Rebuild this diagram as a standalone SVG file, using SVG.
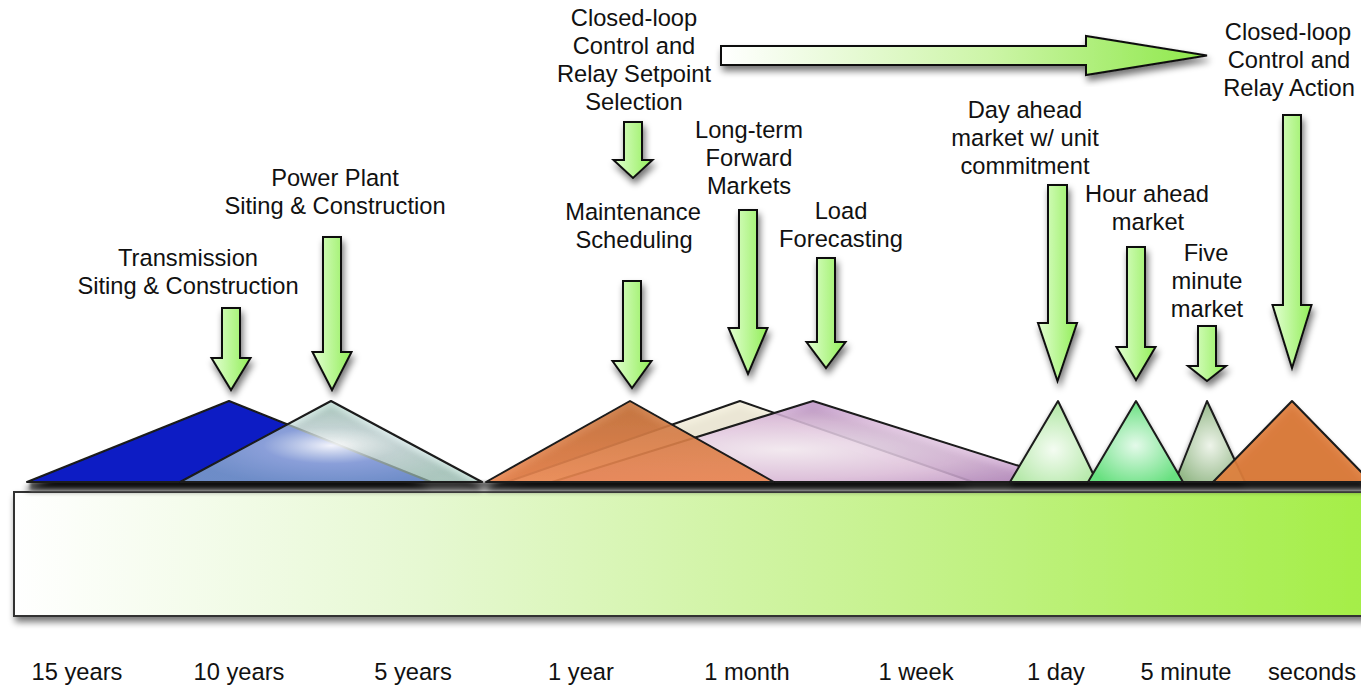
<svg xmlns="http://www.w3.org/2000/svg" width="1361" height="685" viewBox="0 0 1361 685">
  <style>
    .lbl { font-family: "Liberation Sans", Arial, sans-serif; font-size: 23.7px; text-anchor: middle; fill: #111; }
    .arr { fill: url(#gArrow); stroke: #111; stroke-width: 2; stroke-linejoin: miter; filter: url(#shadow); }
    .tri { stroke: #1a1a1a; stroke-width: 2; stroke-linejoin: round; }
  </style>
  <defs>
    <filter id="shadow" x="-30%" y="-30%" width="160%" height="160%">
      <feGaussianBlur in="SourceAlpha" stdDeviation="3.5"/>
      <feOffset dx="2" dy="5" result="b"/>
      <feComponentTransfer><feFuncA type="linear" slope="0.55"/></feComponentTransfer>
      <feMerge><feMergeNode/><feMergeNode in="SourceGraphic"/></feMerge>
    </filter>
    <filter id="triShadow" x="-5%" y="-20%" width="110%" height="150%">
      <feGaussianBlur in="SourceAlpha" stdDeviation="3"/>
      <feOffset dx="0" dy="7" result="b"/>
      <feComponentTransfer><feFuncA type="linear" slope="0.9"/></feComponentTransfer>
      <feMerge><feMergeNode/><feMergeNode in="SourceGraphic"/></feMerge>
    </filter>
    <filter id="soft" x="-5%" y="-100%" width="110%" height="300%">
      <feGaussianBlur stdDeviation="1.6"/>
    </filter>
    <linearGradient id="gBase" x1="0" y1="0" x2="0" y2="1">
      <stop offset="0" stop-color="#4a4a4a"/>
      <stop offset="0.5" stop-color="#8c8c8c"/>
      <stop offset="1" stop-color="#c4c4c4"/>
    </linearGradient>
    <linearGradient id="gArrow" x1="0" y1="0" x2="1" y2="0">
      <stop offset="0" stop-color="#e2ffd2"/>
      <stop offset="1" stop-color="#92ee58"/>
    </linearGradient>
    <linearGradient id="gHArrow" x1="0" y1="0" x2="1" y2="0">
      <stop offset="0" stop-color="#ffffff"/>
      <stop offset="0.55" stop-color="#cdf5a8"/>
      <stop offset="1" stop-color="#8ee84a"/>
    </linearGradient>
    <linearGradient id="gBar" x1="0" y1="0" x2="1" y2="0">
      <stop offset="0" stop-color="#ffffff"/>
      <stop offset="0.3" stop-color="#e6f8d2"/>
      <stop offset="0.65" stop-color="#c6f28e"/>
      <stop offset="1" stop-color="#a4ee46"/>
    </linearGradient>
    <radialGradient id="gLight" cx="0.5" cy="0.55" r="0.5">
      <stop offset="0" stop-color="#ffffff" stop-opacity="0.95"/>
      <stop offset="0.45" stop-color="#cfe4e4" stop-opacity="0.65"/>
      <stop offset="1" stop-color="#b0d6ca" stop-opacity="0.6"/>
    </radialGradient>
    <linearGradient id="gOrange" x1="0" y1="0" x2="0" y2="1">
      <stop offset="0" stop-color="#c8763f"/>
      <stop offset="1" stop-color="#ea8650"/>
    </linearGradient>
    <radialGradient id="gPurple" cx="0.45" cy="0.6" r="0.6">
      <stop offset="0" stop-color="#f4eaf4"/>
      <stop offset="0.6" stop-color="#dcbcdc"/>
      <stop offset="1" stop-color="#bc90c4"/>
    </radialGradient>
    <radialGradient id="gGreen1" cx="0.5" cy="0.6" r="0.55">
      <stop offset="0" stop-color="#f4fcf2"/>
      <stop offset="1" stop-color="#b4e8a8"/>
    </radialGradient>
    <radialGradient id="gGreen2" cx="0.5" cy="0.55" r="0.55">
      <stop offset="0" stop-color="#e4faea"/>
      <stop offset="1" stop-color="#68e080"/>
    </radialGradient>
    <radialGradient id="gGreen3" cx="0.5" cy="0.55" r="0.55">
      <stop offset="0" stop-color="#eef4ea"/>
      <stop offset="1" stop-color="#94b888"/>
    </radialGradient>
  </defs>

  <rect width="1361" height="685" fill="#ffffff"/>

  <!-- time axis bar -->
  <g id="timeline-bar">
    <rect x="14" y="492" width="1360" height="124" fill="url(#gBar)" stroke="#333" stroke-width="2" filter="url(#shadow)"/>
  </g>

  <!-- horizon triangles, standing on a soft grey base -->
  <g id="horizons">
    <rect x="30" y="482" width="1340" height="9" fill="url(#gBase)" filter="url(#soft)"/>
    <g filter="url(#triShadow)">
      <polygon id="tri-transmission" class="tri" points="27,482 229,401 431,482" fill="#0a1ec4"/>
      <polygon id="tri-powerplant" class="tri" points="180,482 331,401 482,482" fill="url(#gLight)"/>
      <polygon id="tri-forward" class="tri" points="507,482 740,401 973,482" fill="#f3eedc" fill-opacity="0.9"/>
      <polygon id="tri-load" class="tri" points="552,482 813,401 1070,482" fill="url(#gPurple)" fill-opacity="0.85"/>
      <polygon id="tri-maintenance" class="tri" points="486,482 630,401 774,482" fill="url(#gOrange)" fill-opacity="0.9"/>
      <polygon id="tri-dayahead" class="tri" points="1010,482 1058,401 1097,482" fill="url(#gGreen1)"/>
      <polygon id="tri-fiveminute" class="tri" points="1175,482 1207,401 1245,482" fill="url(#gGreen3)"/>
      <polygon id="tri-hourahead" class="tri" points="1088,482 1136,401 1183,482" fill="url(#gGreen2)"/>
      <polygon id="tri-seconds" class="tri" points="1213,482 1292,401 1371,482" fill="#e07e3c" fill-opacity="0.92"/>
    </g>
  </g>

  <!-- connectors: downward arrows and the progression arrow -->
  <g id="connectors">
    <path id="arrow-progression" d="M721,46 H1086 V36 L1207,55.5 L1086,75 V65 H721 Z" fill="url(#gHArrow)" stroke="#111" stroke-width="2" filter="url(#shadow)"/>
    <path class="arr" d="M222,308 H240 V358 H250.5 L231,390 L211.5,358 H222 Z"/>
    <path class="arr" d="M323,237 H341 V352 H351.5 L332,390 L312.5,352 H323 Z"/>
    <path class="arr" d="M624,122 H642 V160 H652.5 L633,178 L613.5,160 H624 Z"/>
    <path class="arr" d="M623,281 H641 V361 H651.5 L632,388 L612.5,361 H623 Z"/>
    <path class="arr" d="M739,210 H757 V328 H767.5 L748,374 L728.5,328 H739 Z"/>
    <path class="arr" d="M817,258 H835 V342 H845.5 L826,368 L806.5,342 H817 Z"/>
    <path class="arr" d="M1048,185 H1067 V323 H1077 L1057.5,381 L1038,323 H1048 Z"/>
    <path class="arr" d="M1127,247 H1145 V347 H1155.5 L1136,380 L1116.5,347 H1127 Z"/>
    <path class="arr" d="M1198,326 H1216 V366 H1226 L1207,381 L1188,366 H1198 Z"/>
    <path class="arr" d="M1283,115 H1301 V305 H1311.5 L1292,368 L1272.5,305 H1283 Z"/>
  </g>

  <!-- labels -->
  <g id="label-transmission" class="lbl">
    <text x="188" y="266">Transmission</text>
    <text x="188" y="294">Siting &amp; Construction</text>
  </g>
  <g id="label-powerplant" class="lbl">
    <text x="335" y="186">Power Plant</text>
    <text x="335" y="214">Siting &amp; Construction</text>
  </g>
  <g id="label-setpoint" class="lbl">
    <text x="634" y="26">Closed-loop</text>
    <text x="634" y="54">Control and</text>
    <text x="634" y="82">Relay Setpoint</text>
    <text x="634" y="110">Selection</text>
  </g>
  <g id="label-maintenance" class="lbl">
    <text x="633" y="220">Maintenance</text>
    <text x="634" y="248">Scheduling</text>
  </g>
  <g id="label-forward" class="lbl">
    <text x="749" y="138">Long-term</text>
    <text x="749" y="166">Forward</text>
    <text x="749" y="194">Markets</text>
  </g>
  <g id="label-load" class="lbl">
    <text x="841" y="219">Load</text>
    <text x="841" y="247">Forecasting</text>
  </g>
  <g id="label-dayahead" class="lbl">
    <text x="1025" y="118">Day ahead</text>
    <text x="1025" y="146">market w/ unit</text>
    <text x="1025" y="174">commitment</text>
  </g>
  <g id="label-hourahead" class="lbl">
    <text x="1147" y="202">Hour ahead</text>
    <text x="1148" y="230">market</text>
  </g>
  <g id="label-fiveminute" class="lbl">
    <text x="1206" y="261">Five</text>
    <text x="1207" y="289">minute</text>
    <text x="1207" y="317">market</text>
  </g>
  <g id="label-relay" class="lbl">
    <text x="1288" y="40">Closed-loop</text>
    <text x="1289" y="68">Control and</text>
    <text x="1289" y="96">Relay Action</text>
  </g>

  <!-- axis ticks -->
  <g id="axis-labels" class="lbl">
    <text x="77" y="680">15 years</text>
    <text x="239" y="680">10 years</text>
    <text x="413" y="680">5 years</text>
    <text x="581" y="680">1 year</text>
    <text x="747" y="680">1 month</text>
    <text x="916" y="680">1 week</text>
    <text x="1056" y="680">1 day</text>
    <text x="1186" y="680">5 minute</text>
    <text x="1312" y="680">seconds</text>
  </g>
</svg>
